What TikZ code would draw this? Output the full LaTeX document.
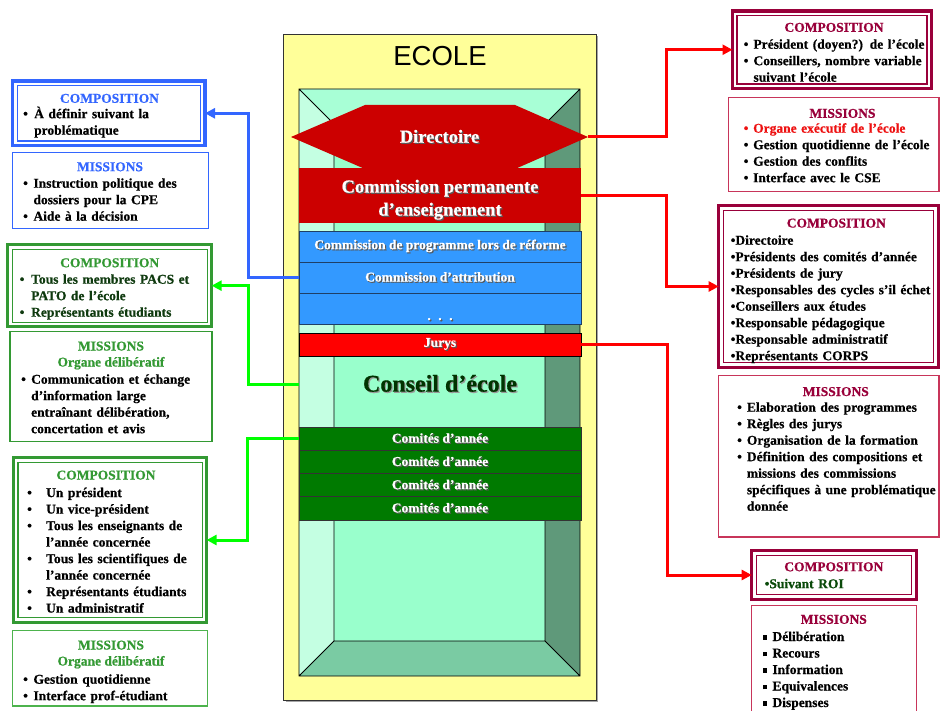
\documentclass[tikz,border=0pt]{standalone}
\usepackage{fontspec}
\setmainfont{Liberation Serif}[BoldFeatures={FakeBold=0.6}]
\newfontfamily\ecolefont{Liberation Sans}
\usetikzlibrary{arrows.meta}

\definecolor{cblue}{HTML}{3366FF}
\definecolor{cgreen}{HTML}{339933}
\definecolor{cgreenl}{HTML}{4DB34D}
\definecolor{cwine}{HTML}{99003A}
\definecolor{cwinel}{HTML}{C8355A}
\definecolor{ecyellow}{HTML}{FFFF99}
\definecolor{faceback}{HTML}{99FFCC}
\definecolor{facetop}{HTML}{A8FFD6}
\definecolor{faceleft}{HTML}{C4FFE2}
\definecolor{faceright}{HTML}{5F997A}
\definecolor{facebot}{HTML}{7ACBA3}
\definecolor{dred}{HTML}{CC0000}
\definecolor{rowblue}{HTML}{3399FF}
\definecolor{rowedge}{HTML}{1F3F66}
\definecolor{rowgreen}{HTML}{007A00}
\definecolor{darkg}{HTML}{003300}
\definecolor{lgtext}{HTML}{0F3A0F}
\definecolor{roitext}{HTML}{0A4A0A}
\definecolor{exred}{HTML}{EE1111}
\definecolor{lnred}{HTML}{FF0000}
\definecolor{lngreen}{HTML}{00FF00}

\newlength\bind
\newcommand\itm[1]{\par\noindent\strut\makebox[\bind][l]{•}#1}
\newcommand\sqitm[1]{\par\noindent\strut\makebox[\bind][l]{\rule[1.2pt]{4.5pt}{4.5pt}}#1}
\newcommand\cnt[1]{\par\noindent\strut\hspace*{\bind}#1}
\newcommand\shd[2][black!65]{\makebox[0pt][l]{\kern1.2pt\raisebox{-1.2pt}{\color{#1}#2}}#2}
\newcommand\innerline[2]{\draw[#1, line width=1.2pt] ([shift={(4.5pt,-4.5pt)}]#2.north west) rectangle ([shift={(-4.5pt,4.5pt)}]#2.south east);}

\begin{document}
\begin{tikzpicture}[x=1pt, y=-1pt,
    txt/.style={font=\bfseries\fontsize{13.5}{16.5}\selectfont},
    ttl/.style={txt, text=#1, anchor=base, inner sep=0},
    items/.style={txt, anchor=north west, inner sep=0, text width=205pt, align=left,
      execute at begin node={\bfseries\fontsize{13.5}{16.5}\selectfont\setlength\bind{#1}}},
    compbox/.style={draw=#1, line width=3.2pt, fill=white, anchor=north west, outer sep=0, inner sep=0},
    missbox/.style={draw=#1, line width=1.3pt, fill=white, anchor=north west, outer sep=0, inner sep=0},
    row/.style={txt, minimum width=282, minimum height=#1, anchor=north west, inner sep=0, outer sep=0, text=white},
    conn/.style={draw=#1, line width=3pt, -{Triangle[length=10pt,width=10pt]}}]
  \useasboundingbox (0,0) rectangle (941,711);

  % ecole
  \fill[black!35] (285.5,36.5) rectangle (598,702);
  \node[draw=black!80, line width=.8pt, fill=ecyellow, minimum width=313, minimum height=666,
    anchor=north west, inner sep=0, outer sep=0] (ecole) at (283,34) {};
  \node[font=\ecolefont\fontsize{27.5}{30}\selectfont, anchor=base, inner sep=0] (ecole-t) at (440,66) {ECOLE};

  % boite
  \fill[facetop] (299,89) -- (580,89) -- (545,124) -- (334,124) -- cycle;
  \fill[faceleft] (299,89) -- (334,124) -- (334,641) -- (299,676) -- cycle;
  \fill[faceright] (580,89) -- (545,124) -- (545,641) -- (580,676) -- cycle;
  \fill[facebot] (299,676) -- (334,641) -- (545,641) -- (580,676) -- cycle;
  \fill[faceback] (334,124) rectangle (545,641);
  \draw[line width=.8pt] (299,89) rectangle (580,676) (334,124) rectangle (545,641)
    (299,89) -- (334,124) (580,89) -- (545,124) (299,676) -- (334,641) (580,676) -- (545,641);

  % directoire
  \coordinate (dirc) at (439.5,137);
  \fill[dred] ([xshift=-148.5pt]dirc) -- ([shift={(-74.5pt,32pt)}]dirc) -- ([shift={(75.5pt,32pt)}]dirc)
    -- ([xshift=148.5pt]dirc) -- ([shift={(75.5pt,-32pt)}]dirc) -- ([shift={(-74.5pt,-32pt)}]dirc) -- cycle;
  \node[minimum width=297, inner sep=0, outer sep=0, text=white,
    font=\bfseries\fontsize{18.5}{22}\selectfont] (dir) at (dirc) {\shd{Directoire}};

  \node[row=55, fill=dred, font=\bfseries\fontsize{18.5}{23}\selectfont, align=center] (cpe) at (299,168)
    {\shd{Commission permanente}\rule{0pt}{22.5pt}\\\shd{d’enseignement}};

  \node[row=31, fill=rowblue, draw=rowedge, line width=.8pt] (prog) at (299,231) {\shd{Commission de programme lors de réforme}};
  \node[row=31, fill=rowblue, draw=rowedge, line width=.8pt] (attr) at (299,262) {\shd{Commission d’attribution}};
  \node[row=31, fill=rowblue, draw=rowedge, line width=.8pt, text height=0pt, text depth=0pt] (etc) at (299,293)
    {\raisebox{-11.5pt}{\shd{.\hspace{7.5pt}.\hspace{7.5pt}.}}};

  \node[row=23, fill=red, draw=black, line width=.8pt] (jurys) at (299,333) {\shd{Jurys}};

  \node[minimum width=282, inner sep=0, outer sep=0, text=darkg,
    font=\bfseries\fontsize{24}{28}\selectfont] (conseil) at (440,384) {\shd[black!40]{Conseil d’école}};

  \foreach \i in {1,...,4}
    \node[row=23.25, fill=rowgreen, draw=black!80, line width=.8pt] (com\i) at (299,{403.75+23.25*\i}) {\shd{Comités d’année}};

  % gauche
  \node[compbox=cblue, minimum width=192.3, minimum height=64.6] (lcomp) at (12.7,81) {};
  \innerline{cblue}{lcomp}
  \node[ttl=cblue] (lcomp-t) at (109.5,102.8) {COMPOSITION};
  \node[items=11pt] (lcomp-i) at (23,101.5) {\itm{À définir suivant la}\cnt{problématique}};

  \node[missbox=cblue, minimum width=196, minimum height=76] (lmiss) at (12.5,152.5) {};
  \node[ttl=cblue] (lmiss-t) at (110,171.2) {MISSIONS};
  \node[items=10.3pt] (lmiss-i) at (23,171) {\itm{Instruction politique des}\cnt{dossiers pour la CPE}\itm{Aide à la décision}};

  \node[compbox=cgreen, minimum width=203.9, minimum height=81.9] (lgcomp) at (7.7,244.7) {};
  \innerline{cgreen}{lgcomp}
  \node[ttl=cgreen] (lgcomp-t) at (109.7,267.2) {COMPOSITION};
  \node[items=11.5pt, text=lgtext] (lgcomp-i) at (19.5,267)
    {\itm{Tous les membres PACS et}\cnt{PATO de l’école}\itm{Représentants étudiants}};

  \node[missbox=cgreen, minimum width=202, minimum height=110] (lgmiss) at (10,331.5) {};
  \node[ttl=cgreen] (lgmiss-t) at (111,350.5) {MISSIONS};
  \node[ttl=cgreen] (lgmiss-s) at (111,366.5) {Organe délibératif};
  \node[items=10pt] (lgmiss-i) at (21,367)
    {\itm{Communication et échange}\cnt{d’information large}\cnt{entraînant délibération,}\cnt{concertation et avis}};

  \node[compbox=cgreen, minimum width=193.2, minimum height=164.6] (lycomp) at (13.4,457.7) {};
  \innerline{cgreen}{lycomp}
  \node[ttl=cgreen] (lycomp-t) at (106,479.5) {COMPOSITION};
  \node[items=19pt] (lycomp-i) at (27,480.4)
    {\itm{Un président}\itm{Un vice-président}\itm{Tous les enseignants de}\cnt{l’année concernée}%
     \itm{Tous les scientifiques de}\cnt{l’année concernée}\itm{Représentants étudiants}\itm{Un administratif}};

  \node[missbox=cgreenl, minimum width=195, minimum height=75.5] (lymiss) at (12.5,630.5) {};
  \node[ttl=cgreen] (lymiss-t) at (111,649.5) {MISSIONS};
  \node[ttl=cgreen] (lymiss-s) at (111,665.5) {Organe délibératif};
  \node[items=10.3pt] (lymiss-i) at (23,667) {\itm{Gestion quotidienne}\itm{Interface prof-étudiant}};

  % droite
  \node[compbox=cwine, minimum width=199, minimum height=77.5] (rcomp) at (732.5,11) {};
  \innerline{cwine}{rcomp}
  \node[ttl=cwine] (rcomp-t) at (834,31.8) {COMPOSITION};
  \node[items=9.8pt] (rcomp-i) at (743.5,32)
    {\itm{Président (doyen?) de l’école}\itm{Conseillers, nombre variable}\cnt{suivant l’école}};

  \node[missbox=cwinel, minimum width=210.5, minimum height=94] (rmiss) at (728.5,97.5) {};
  \node[ttl=cwine] (rmiss-t) at (842.5,117.8) {MISSIONS};
  \node[items=9.5pt] (rmiss-i) at (743.5,116)
    {{\color{exred}\itm{Organe exécutif de l’école}}\itm{Gestion quotidienne de l’école}\itm{Gestion des conflits}\itm{Interface avec le CSE}};

  \node[compbox=cwine, minimum width=219.6, minimum height=161.6] (rjcomp) at (718.7,205.7) {};
  \innerline{cwine}{rjcomp}
  \node[ttl=cwine] (rjcomp-t) at (836.3,227.5) {COMPOSITION};
  \node[items=0pt] (rjcomp-i) at (730.5,228)
    {\cnt{•Directoire}\cnt{•Présidents des comités d’année}\cnt{•Présidents de jury}\cnt{•Responsables des cycles s’il échet}%
     \cnt{•Conseillers aux études}\cnt{•Responsable pédagogique}\cnt{•Responsable administratif}\cnt{•Représentants CORPS}};

  \node[missbox=cwinel, minimum width=220.5, minimum height=161.5] (rjmiss) at (718.5,375.5) {};
  \node[ttl=cwine] (rjmiss-t) at (835.8,396) {MISSIONS};
  \node[items=9.7pt] (rjmiss-i) at (737,395)
    {\itm{Elaboration des programmes}\itm{Règles des jurys}\itm{Organisation de la formation}%
     \itm{Définition des compositions et}\cnt{missions des commissions}\cnt{spécifiques à une problématique}\cnt{donnée}};

  \node[compbox=cwine, minimum width=164.6, minimum height=48.6] (rrcomp) at (751.7,550.7) {};
  \innerline{cwine}{rrcomp}
  \node[ttl=cwine] (rrcomp-t) at (833.8,571.2) {COMPOSITION};
  \node[items=0pt, text=roitext] (rrcomp-i) at (764.5,571.5) {\cnt{•Suivant ROI}};

  \node[missbox=cwinel, minimum width=165, minimum height=115] (rrmiss) at (751.5,605.5) {};
  \node[ttl=cwine] (rrmiss-t) at (833.8,623.8) {MISSIONS};
  \node[items=9.6pt] (rrmiss-i) at (762.7,624.3)
    {\sqitm{Délibération}\sqitm{Recours}\sqitm{Information}\sqitm{Equivalences}\sqitm{Dispenses}};

  % liens
  \draw[conn=cblue] (attr.west) -- ++(-51,0) |- (lcomp.east);
  \draw[conn=lngreen] (conseil.west) -- ++(-51,0) |- (lgcomp.east);
  \draw[conn=lngreen] (com1.west) -- ++(-52,0) |- (lycomp.east);
  \draw[conn=lnred] (dir.east) -- ++(78,0) |- (rcomp.west);
  \draw[conn=lnred] (cpe.east) -- ++(85,0) |- (rjcomp.west);
  \draw[conn=lnred] (jurys.east) -- ++(86,0) |- (rrcomp.west);
\end{tikzpicture}
\end{document}
